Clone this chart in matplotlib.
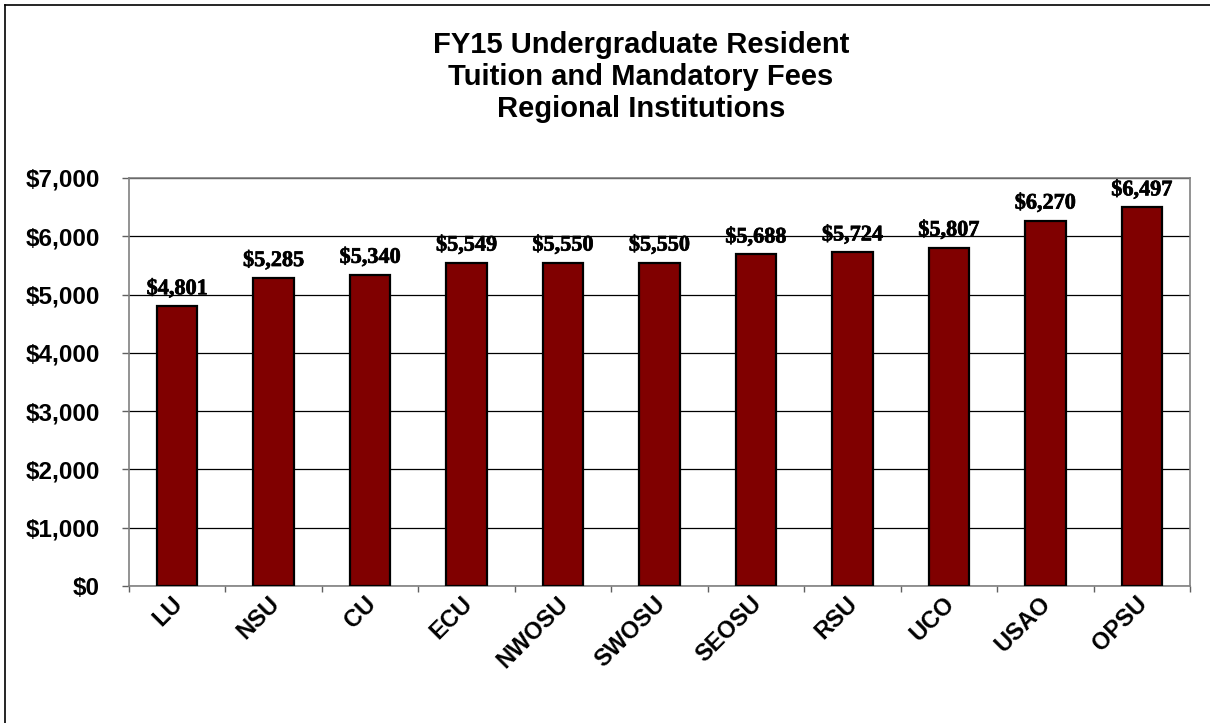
import matplotlib
matplotlib.use("Agg")
import matplotlib.pyplot as plt
import matplotlib.patheffects as pe
from matplotlib.lines import Line2D
from matplotlib.ticker import FuncFormatter, MultipleLocator, NullFormatter

categories = ["LU", "NSU", "CU", "ECU", "NWOSU", "SWOSU", "SEOSU", "RSU", "UCO", "USAO", "OPSU"]
values = [4801, 5285, 5340, 5549, 5550, 5550, 5688, 5724, 5807, 6270, 6497]
title_lines = ["FY15 Undergraduate Resident", "Tuition and Mandatory Fees", "Regional Institutions"]

W, H = 1210, 723
fig = plt.figure(figsize=(W / 100, H / 100), dpi=100)
ax = fig.add_axes([129 / W, 1 - 586 / H, (1190 - 129) / W, (586 - 178) / H])

x = list(range(len(categories)))
ax.bar(x, values, width=0.42, color="#800000", edgecolor="black", linewidth=1.6, zorder=3)

for xi, v in zip(x, values):
    ax.annotate(f"${v:,}", (xi, v), xytext=(0, 5), textcoords="offset points",
                ha="center", va="bottom", fontsize=16, fontweight="bold",
                family="Liberation Serif", color="black", zorder=4,
                path_effects=[pe.withStroke(linewidth=0.5, foreground="black")])

ax.set_xlim(-0.5, len(categories) - 0.5)
ax.set_ylim(0, 7000)
ax.yaxis.set_major_locator(MultipleLocator(1000))
ax.yaxis.set_major_formatter(FuncFormatter(lambda v, p: f"${v:,.0f}"))
ax.grid(axis="y", color="black", linewidth=0.9, zorder=1)
ax.set_axisbelow(True)

# category boundaries as tick marks
ax.set_xticks([i - 0.5 for i in range(len(categories) + 1)])
ax.xaxis.set_major_formatter(NullFormatter())
# category labels at bar centres, rotated 45 degrees
for xi, cat in zip(x, categories):
    ax.annotate(cat, (xi, 0), xycoords=("data", "axes fraction"),
                xytext=(-6, -6), textcoords="offset pixels",
                rotation=45, rotation_mode="anchor", ha="right", va="top",
                fontsize=17, fontweight="bold", family="Liberation Sans",
                annotation_clip=False)

ax.tick_params(axis="x", which="major", length=4.5, color="#606060", width=1)
ax.tick_params(axis="y", length=5, color="#606060", width=1, pad=15.8)
for lab in ax.get_yticklabels():
    lab.set_fontsize(17.5)
    lab.set_fontweight("bold")
    lab.set_family("Liberation Sans")

for s in ax.spines.values():
    s.set_color("#808080")
    s.set_linewidth(1.2)

fig.text(641 / W, 1 - 77 / H, "\n".join(title_lines), ha="center", va="center",
         fontsize=21, fontweight="bold", family="Liberation Sans", linespacing=1.2)

# outer border (top and left)
fig.add_artist(Line2D([5 / W, 1], [1 - 4.5 / H, 1 - 4.5 / H], transform=fig.transFigure,
                      color="black", linewidth=1.2))
fig.add_artist(Line2D([5 / W, 5 / W], [0, 1 - 4.5 / H], transform=fig.transFigure,
                      color="black", linewidth=1.2))

fig.savefig("out.png", dpi=100, facecolor="white")
